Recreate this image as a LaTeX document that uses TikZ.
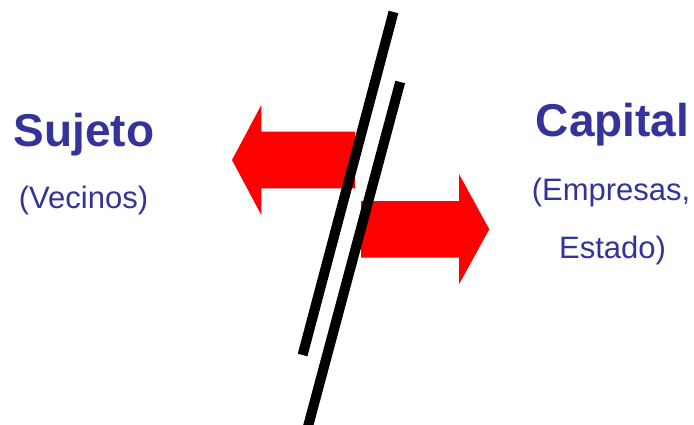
\documentclass[tikz,border=0pt]{standalone}
\usepackage{fontspec}
\setmainfont{Liberation Sans}
\usepackage{xcolor}
\definecolor{textblue}{RGB}{51,51,153}

\begin{document}
\begin{tikzpicture}[x=1pt, y=1pt, thick,
    title/.style={text=textblue, font=\bfseries\fontsize{46}{50}\selectfont, anchor=base},
    sub/.style={text=textblue, font=\fontsize{31}{36}\selectfont, anchor=base},
    bar/.style={line width=10pt, black}]
    \clip (0,0) rectangle (694,424);
    % red arrows
    \fill[red] (232,264) -- (261.3,319) -- (261.3,292.3) -- (355,292.3)
        -- (355,235.7) -- (261.3,235.7) -- (261.3,209) -- cycle;
    \fill[red] (489.3,194.7) -- (459,250) -- (459,223) -- (361,223)
        -- (361,166.3) -- (459,166.3) -- (459,139.7) -- cycle;
    % the two bars
    \coordinate (b1top) at (393.5,412);
    \coordinate (b1bot) at (302.6,69);
    \coordinate (b2top) at (400.2,342);
    \coordinate (b2bot) at (306,-10);
    \draw[bar] (b1top) -- (b1bot);
    \draw[bar] (b2top) -- (b2bot);
    % labels
    \node[title] (sujeto) at (84,277) {Sujeto};
    \node[sub] (vecinos) at (83.5,215.7) {(Vecinos)};
    \node[title] (capital) at (612.5,287.3) {Capital};
    \node[sub] (empresas) at (611,224) {(Empresas,};
    \node[sub] (estado) at (612.5,165.7) {Estado)};
\end{tikzpicture}
\end{document}
